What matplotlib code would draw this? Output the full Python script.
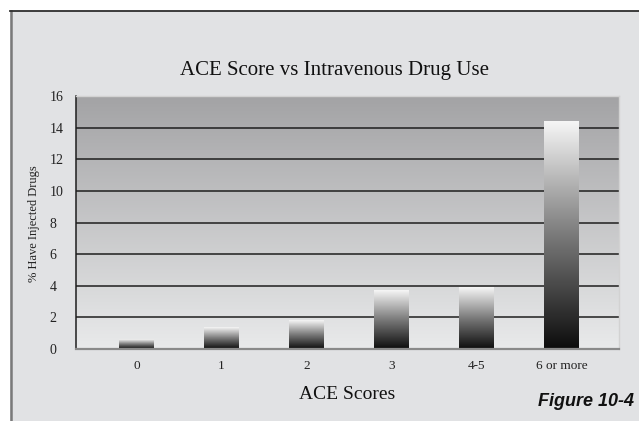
import numpy as np
import matplotlib.pyplot as plt
from matplotlib.patches import Rectangle
from matplotlib.colors import LinearSegmentedColormap

categories = ["0", "1", "2", "3", "4-5", "6 or more"]
pct_injected = [0.63, 1.38, 1.83, 3.67, 3.88, 14.4]
y_ticks = [0, 2, 4, 6, 8, 10, 12, 14, 16]

SERIF = ["Liberation Serif", "DejaVu Serif"]

fig = plt.figure(figsize=(6.39, 4.21), dpi=100)
fig.patch.set_facecolor("white")

# panel behind the chart, only left and top edges show
panel = Rectangle((10 / 639, -0.1), 1.2, (1 - 11 / 421) + 0.1,
                  transform=fig.transFigure, facecolor="#e1e2e4",
                  edgecolor="none", zorder=-5)
fig.patches.append(panel)
fig.add_artist(plt.Line2D([10.5 / 639, 10.5 / 639], [0, 1 - 11 / 421],
                          transform=fig.transFigure, color="#7a7a7a", lw=1.8, zorder=-4))
fig.add_artist(plt.Line2D([10 / 639, 1], [1 - 11 / 421, 1 - 11 / 421],
                          transform=fig.transFigure, color="#2e2e2e", lw=1.3, zorder=-4))

ax = fig.add_axes([75.5 / 639, 1 - 349 / 421, (619 - 75.5) / 639, (349 - 96) / 421])
ax.set_zorder(5)
ax.set_facecolor("none")

x = np.arange(len(categories))
xmin, xmax = -0.718, 5.676

# background gradient: light at bottom, darker gray at top
bg_cmap = LinearSegmentedColormap.from_list("bg", ["#e9eaeb", "#a3a3a5"])
ax.imshow(np.linspace(0, 1, 256).reshape(-1, 1), cmap=bg_cmap, aspect="auto",
          extent=(xmin, xmax, 0, 16), origin="lower", zorder=0)

for yt in y_ticks[1:-1]:
    ax.axhline(yt, color="#1e1e1e", lw=1.1, zorder=1)

# bars with vertical gradient, black at base to white at top
bar_cmap = LinearSegmentedColormap.from_list("bar", ["#0c0c0c", "#7a7a7a", "#f6f6f6"])
bars = ax.bar(x, pct_injected, width=0.41, color="none", edgecolor="none", zorder=2)
for b in bars:
    x0, w, h = b.get_x(), b.get_width(), b.get_height()
    ax.imshow(np.linspace(0, 1, 256).reshape(-1, 1), cmap=bar_cmap, aspect="auto",
              extent=(x0, x0 + w, 0, h), origin="lower", zorder=2)
ax.set_xlim(xmin, xmax)
ax.set_ylim(0, 16)

for side in ["top", "right"]:
    ax.spines[side].set_color("#d2d2d2")
    ax.spines[side].set_linewidth(1.0)
ax.spines["left"].set_color("#1e1e1e")
ax.spines["left"].set_linewidth(1.1)
ax.spines["bottom"].set_color("#8a8a8a")
ax.spines["bottom"].set_linewidth(1.6)
for s in ax.spines.values():
    s.set_zorder(3)

ax.set_yticks(y_ticks)
ax.set_yticklabels([str(v) for v in y_ticks], fontfamily=SERIF, fontsize=10, color="#222",
                   ha="left")
ax.set_xticks(x)
ax.set_xticklabels(categories, fontfamily=SERIF, fontsize=9.5, color="#222")
ax.tick_params(axis="y", length=0, pad=18.5)
ax.tick_params(axis="x", length=0, pad=8)

fig.text(34 / 639, 1 - 224 / 421, "% Have Injected Drugs", fontfamily=SERIF,
         fontsize=9, color="#222", rotation=90, ha="center", va="center")
ax.set_xlabel("ACE Scores", fontfamily=SERIF, fontsize=14, color="#111", labelpad=10)

fig.text(334 / 639, 1 - 70 / 421, "ACE Score vs Intravenous Drug Use",
         fontfamily=SERIF, fontsize=15, color="#111", ha="center", va="center")
fig.text(634 / 639, 1 - 402 / 421, "Figure 10-4", fontfamily="Liberation Sans",
         fontweight="bold", fontstyle="italic", fontsize=13, color="#111",
         ha="right", va="center")

fig.savefig("out.png", dpi=100)
